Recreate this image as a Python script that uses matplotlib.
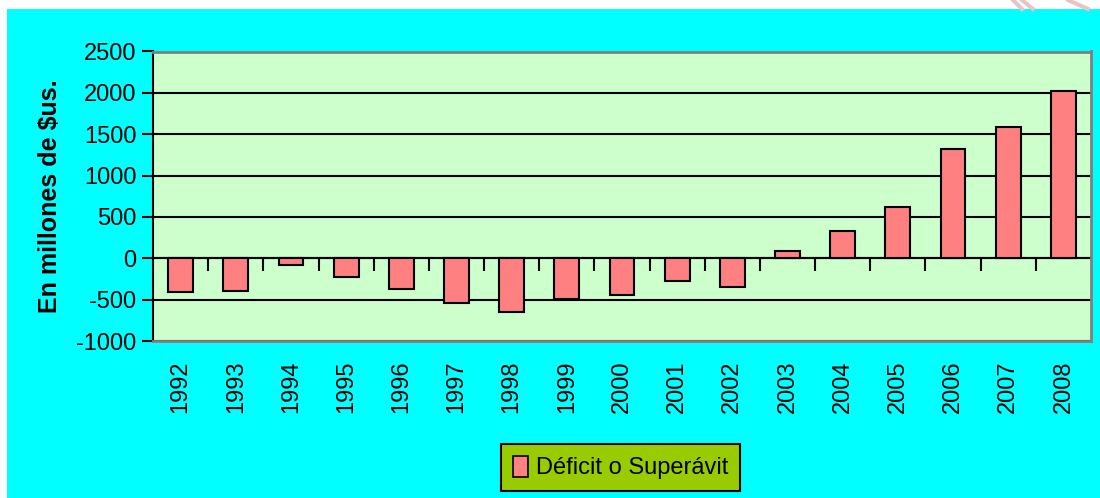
import matplotlib
matplotlib.use("Agg")
from matplotlib import pyplot as plt
from matplotlib.patches import Rectangle, Patch
from matplotlib.lines import Line2D

years = ['1992', '1993', '1994', '1995', '1996', '1997', '1998', '1999', '2000',
         '2001', '2002', '2003', '2004', '2005', '2006', '2007', '2008']
balance = [-410, -395, -77, -222, -372, -540, -655, -492, -440,
           -270, -345, 92, 333, 625, 1325, 1588, 2022]
y_ticks = [-1000, -500, 0, 500, 1000, 1500, 2000, 2500]
series_name = 'Déficit o Superávit'
y_title = 'En millones de $us.'

plt.rcParams['font.family'] = ['Liberation Sans', 'DejaVu Sans']

W, H = 1100, 498
fig = plt.figure(figsize=(W / 100, H / 100), dpi=100)
fig.patch.set_facecolor('white')

# cyan chart area with a white strip on top and left
fig.patches.append(Rectangle((7 / W, 0), 1 - 7 / W, 1 - 9 / H, transform=fig.transFigure,
                             facecolor='#00FFFF', edgecolor='none', zorder=-3))
# faint pink watermark strokes at the top right
for x0, x1 in [(1013, 1022), (1022, 1033), (1068, 1088)]:
    fig.lines.append(Line2D([x0 / W, x1 / W], [1, 1 - 9 / H], transform=fig.transFigure,
                            color='#E8C4C4', lw=3, zorder=-2))

ax = fig.add_axes([153 / W, 1 - 341 / H, (1091 - 153) / W, (341 - 51.5) / H])
ax.set_facecolor('#CCFFCC')

x = list(range(len(years)))
ax.bar(x, balance, width=0.45, color='#FF8080', edgecolor='black', linewidth=1.5, zorder=3)

ax.set_xlim(-0.5, len(years) - 0.5)
ax.set_ylim(-1000, 2500)
ax.set_yticks(y_ticks)
ax.set_yticklabels([str(v) for v in y_ticks], fontsize=17)
ax.yaxis.grid(True, color='black', linewidth=1.5, zorder=1)
ax.set_axisbelow(True)
ax.tick_params(axis='y', direction='out', length=8, width=1.5, pad=4)

ax.set_xticks(x)
ax.set_xticklabels(years, rotation=90, fontsize=17)
ax.tick_params(axis='x', length=0, pad=14)

ax.set_ylabel(y_title, fontsize=18, fontweight='bold', labelpad=10)

for side in ['top', 'right', 'bottom']:
    ax.spines[side].set_color('#808080')
    ax.spines[side].set_linewidth(2)
ax.spines['left'].set_color('black')
ax.spines['left'].set_linewidth(1.5)

# category boundary ticks hanging under the zero line
zero_ax = ax.secondary_xaxis(1000 / 3500)
zero_ax.set_xticks([i + 0.5 for i in x[:-1]])
zero_ax.set_xticklabels([])
zero_ax.tick_params(direction='out', length=9, width=1.5, color='black')
zero_ax.spines['bottom'].set_color('black')
zero_ax.spines['bottom'].set_linewidth(1.5)

handle = Patch(facecolor='#FF8080', edgecolor='black', linewidth=1.2)
leg = fig.legend([handle], [series_name], loc='center', bbox_to_anchor=(620.5 / W, 1 - 467.5 / H),
                 fontsize=17, frameon=True, fancybox=False, facecolor='#99CC00', edgecolor='black',
                 handlelength=0.65, handleheight=1.0, handletextpad=0.3, borderpad=0.5,
                 borderaxespad=0)
leg.get_frame().set_linewidth(1.5)
leg.get_frame().set_alpha(None)

fig.savefig('out.png', dpi=100, facecolor=fig.get_facecolor())
